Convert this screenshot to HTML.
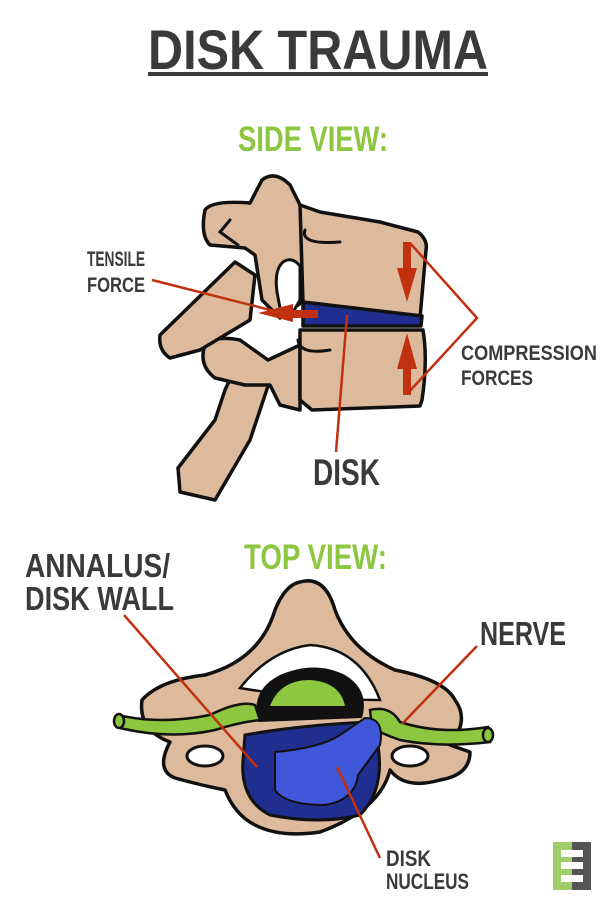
<!DOCTYPE html>
<html><head><meta charset="utf-8"><style>
html,body{margin:0;padding:0;background:#fff;}
svg{display:block;}
text{font-family:"Liberation Sans Narrow","Liberation Sans",sans-serif;font-weight:bold;}
</style></head><body>
<svg width="600" height="900" viewBox="0 0 600 900" xmlns="http://www.w3.org/2000/svg">
<rect width="600" height="900" fill="#fff"/>
<text x="148" y="69" font-size="56" fill="#3a3a38" textLength="340" lengthAdjust="spacingAndGlyphs">DISK TRAUMA</text>
<rect x="148" y="72" width="340" height="4" fill="#3a3a38"/>
<text x="238" y="151" font-size="35" fill="#8dc63f" textLength="150" lengthAdjust="spacingAndGlyphs">SIDE VIEW:</text>

<g stroke="#111" stroke-width="3.5" fill="#dcba9b" stroke-linejoin="round">
  <path d="M238,362 L270,380 L250,440 L215,500 L180,492 L178,468 L215,420 L225,390 Z"/>
  <path d="M205,345 Q215,335 240,340 L268,360 L300,345 L300,410 L280,405 L270,385 L245,385 L215,378 Q198,365 205,345Z"/>
  <path d="M160,335 L235,262 L255,275 L250,320 L200,350 L170,358 Q158,350 160,335Z"/>
  <path d="M262,180 Q275,170 290,185 L300,205 L325,215 L305,300 L280,318 L262,300 L255,255 L245,248 L210,245 Q200,235 205,210 Q212,200 250,203 Z"/>
  <path d="M300,205 L320,212 L380,222 L418,232 Q428,240 426,250 L420,318 L303,303 Z"/>
  <path d="M300,330 L423,330 Q428,360 422,400 L420,406 L312,410 L300,400 Z"/>
  <path d="M303,302 L422,316 L421,326 L303,326 Z" fill="#1f2e8f"/>
</g>
<path d="M283,262 Q292,256 300,266 L300,300 L292,314 L280,308 L277,292 Q274,270 283,262Z" fill="#fff" stroke="#111" stroke-width="3"/>
<g fill="none" stroke="#111" stroke-width="3" stroke-linecap="round">
  <path d="M305,230 Q300,245 340,242"/>
  <path d="M298,340 Q300,355 330,350"/>
  <path d="M230,220 L220,232 L238,245"/>
</g>
<g fill="#c1300f" stroke="#c1300f">
  <line x1="152" y1="280" x2="290" y2="315" stroke-width="2.5"/>
  <rect x="280" y="310" width="38" height="8" stroke="none"/>
  <polygon points="258,313 293,304 293,322" stroke="none"/>
  <rect x="403" y="242" width="8" height="30" stroke="none"/>
  <polygon points="397,268 417,268 407,302" stroke="none"/>
  <rect x="403" y="365" width="8" height="30" stroke="none"/>
  <polygon points="397,369 417,369 407,333" stroke="none"/>
  <polyline points="410,243 477,318 408,393" fill="none" stroke-width="2.5"/>
  <line x1="347" y1="315" x2="336" y2="452" stroke-width="2.5"/>
</g>
<text x="87" y="266" font-size="21" fill="#3a3a38" textLength="58" lengthAdjust="spacingAndGlyphs">TENSILE</text>
<text x="87" y="292" font-size="21" fill="#3a3a38" textLength="58" lengthAdjust="spacingAndGlyphs">FORCE</text>
<text x="461" y="360" font-size="21" fill="#3a3a38" textLength="136" lengthAdjust="spacingAndGlyphs">COMPRESSION</text>
<text x="461" y="385" font-size="21" fill="#3a3a38" textLength="72" lengthAdjust="spacingAndGlyphs">FORCES</text>
<text x="313" y="485" font-size="37" fill="#3a3a38" textLength="67" lengthAdjust="spacingAndGlyphs">DISK</text>

<text x="244" y="569" font-size="35" fill="#8dc63f" textLength="143" lengthAdjust="spacingAndGlyphs">TOP VIEW:</text>
<text x="25" y="577" font-size="33" fill="#3a3a38" textLength="145" lengthAdjust="spacingAndGlyphs">ANNALUS/</text>
<text x="25" y="610" font-size="33" fill="#3a3a38" textLength="149" lengthAdjust="spacingAndGlyphs">DISK WALL</text>
<text x="480" y="645" font-size="33" fill="#3a3a38" textLength="86" lengthAdjust="spacingAndGlyphs">NERVE</text>
<text x="386" y="866" font-size="22" fill="#3a3a38" textLength="45" lengthAdjust="spacingAndGlyphs">DISK</text>
<text x="386" y="889" font-size="22" fill="#3a3a38" textLength="83" lengthAdjust="spacingAndGlyphs">NUCLEUS</text>

<path d="M300,582 Q325,575 335,610 Q350,650 395,670 Q445,680 455,700 Q470,720 450,745 L470,752 Q470,775 440,780 Q405,790 390,770 Q380,810 320,832 Q280,838 255,825 Q235,815 225,790 Q200,785 175,778 Q155,770 170,742 Q138,730 142,700 Q160,680 205,675 Q260,660 275,610 Q285,585 300,582Z" fill="#dcba9b" stroke="#111" stroke-width="3.5" stroke-linejoin="round"/>
<path d="M240,688 Q270,650 310,645 Q360,648 380,700 Q310,700 240,688Z" fill="#fff" stroke="#111" stroke-width="2.5"/>
<path d="M258,722 Q250,690 280,675 Q315,660 345,675 Q370,690 362,718 Z" fill="#111"/>
<path d="M270,706 Q280,680 310,680 Q340,682 345,706Z" fill="#8dc63f"/>
<path d="M118,715 Q160,725 210,715 Q240,700 255,705 L260,720 Q240,722 215,730 Q170,740 120,728Z" fill="#8dc63f" stroke="#111" stroke-width="2.5"/>
<path d="M370,710 Q390,705 400,722 Q440,735 488,727 L490,742 Q440,748 400,740 Q385,735 372,728Z" fill="#8dc63f" stroke="#111" stroke-width="2.5"/>
<ellipse cx="119" cy="721" rx="5" ry="7" fill="#8dc63f" stroke="#111" stroke-width="2.5"/>
<ellipse cx="488" cy="735" rx="5" ry="7" fill="#8dc63f" stroke="#111" stroke-width="2.5"/>
<path d="M245,735 Q300,725 370,722 L378,745 Q385,790 360,815 Q320,825 270,815 Q240,800 243,760Z" fill="#1f2e8f" stroke="#111" stroke-width="3"/>
<path d="M275,752 Q320,748 340,735 L365,718 Q385,718 380,745 L358,775 Q355,800 325,805 Q285,805 275,790 Z" fill="#3f57d8" stroke="#111" stroke-width="2"/>
<ellipse cx="205" cy="756" rx="18" ry="10" fill="#fff" stroke="#111" stroke-width="3"/>
<ellipse cx="410" cy="756" rx="18" ry="10" fill="#fff" stroke="#111" stroke-width="3"/>
<g stroke="#c1300f" stroke-width="2.5">
  <line x1="124" y1="615" x2="257" y2="767"/>
  <line x1="477" y1="646" x2="402" y2="724"/>
  <line x1="337" y1="767" x2="380" y2="858"/>
</g>
<rect x="553" y="842" width="19" height="48" fill="#9fcd6a"/>
<rect x="572" y="842" width="19" height="48" fill="#555355"/>
<rect x="561" y="850" width="22" height="7" fill="#fff"/>
<rect x="561" y="862" width="22" height="7" fill="#fff"/>
<rect x="561" y="875" width="22" height="7" fill="#fff"/>
</svg>
</body></html>
